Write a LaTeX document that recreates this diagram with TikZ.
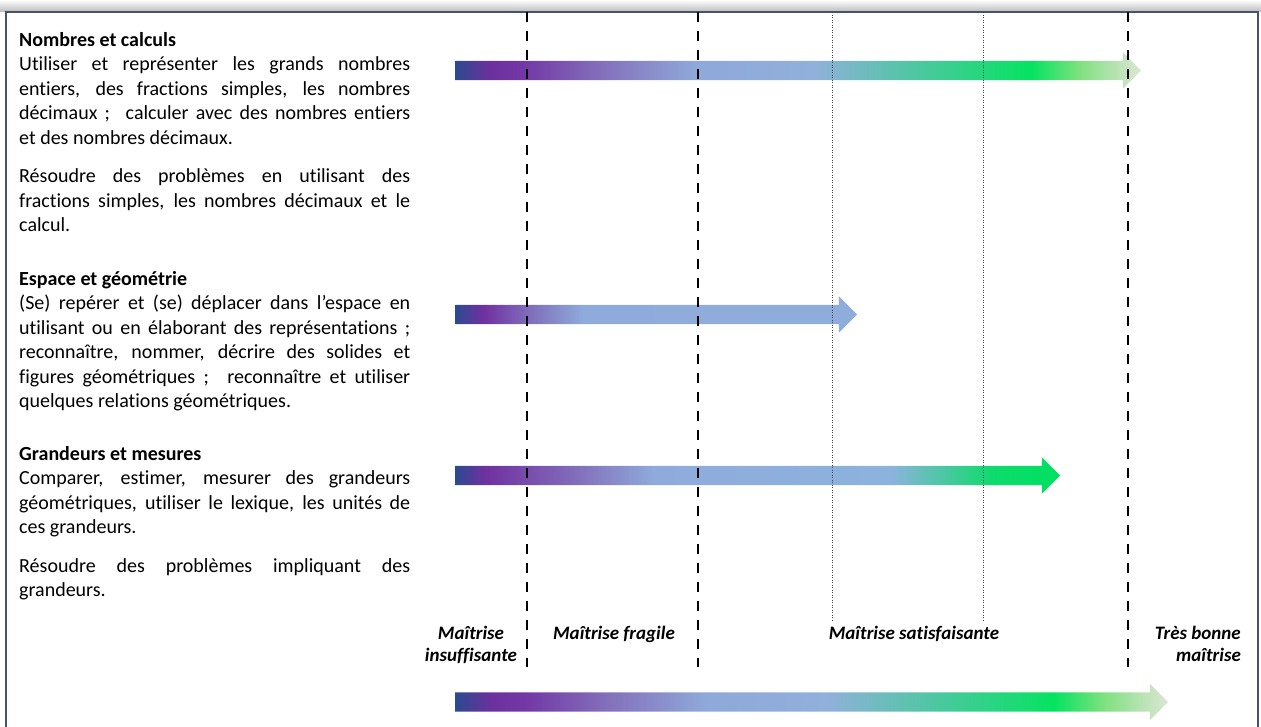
\documentclass[tikz,border=0pt]{standalone}
\usepackage{fontspec}
\setmainfont[Ligatures=NoCommon]{Carlito}
\usetikzlibrary{shapes.arrows}

\definecolor{frame}{RGB}{68,84,106}

\pgfdeclarehorizontalshading{gradfull}{100bp}{rgb(0bp)=(0.17,0.29,0.56); rgb(25bp)=(0.17,0.29,0.56); rgb(27.5bp)=(0.42,0.19,0.62); rgb(30bp)=(0.45,0.22,0.65); rgb(36bp)=(0.52,0.45,0.74); rgb(42.5bp)=(0.56,0.66,0.85); rgb(51bp)=(0.57,0.69,0.86); rgb(57bp)=(0.36,0.76,0.68); rgb(67bp)=(0.02,0.89,0.38); rgb(70.5bp)=(0.5,0.88,0.5); rgb(75bp)=(0.87,0.90,0.84); rgb(100bp)=(0.87,0.90,0.84)}
\pgfdeclarehorizontalshading{gradespace}{100bp}{rgb(0bp)=(0.17,0.29,0.56); rgb(25bp)=(0.17,0.29,0.56); rgb(28.5bp)=(0.44,0.19,0.63); rgb(34bp)=(0.50,0.42,0.73); rgb(41bp)=(0.56,0.67,0.86); rgb(75bp)=(0.56,0.68,0.86); rgb(100bp)=(0.56,0.68,0.86)}
\pgfdeclarehorizontalshading{gradgrand}{100bp}{rgb(0bp)=(0.17,0.29,0.56); rgb(25bp)=(0.17,0.29,0.56); rgb(27.5bp)=(0.44,0.19,0.63); rgb(35bp)=(0.51,0.43,0.73); rgb(41.5bp)=(0.56,0.67,0.86); rgb(61bp)=(0.55,0.70,0.87); rgb(69.5bp)=(0.05,0.86,0.42); rgb(75bp)=(0,0.88,0.38); rgb(100bp)=(0,0.88,0.38)}

\begin{document}
\begin{tikzpicture}[x=1pt, y=-1pt,
    txt/.style = {anchor=north west, inner sep=0pt, text width=391pt, align=justify, font=\fontsize{20}{24.5}\selectfont},
    lvl/.style = {inner sep=0pt, font=\fontsize{19}{22}\selectfont\bfseries\itshape},
    bar/.style = {single arrow, shade, single arrow head extend=8.5pt, inner xsep=0pt, inner ysep=9.5pt, anchor=west, outer sep=0pt},
    cut/.style = {line width=2pt, dash pattern=on 10pt off 9pt},
    sub/.style = {line width=0.7pt, black!75, dash pattern=on 1pt off 1.5pt}]
    \useasboundingbox (0,0) rectangle (1261,726);
    % frame
    \shade[top color=white, bottom color=black!25] (0,0) rectangle (1261,11);
    \draw[line width=2pt, frame] (6,12) rectangle (1258,760);

    % left column
    \node[txt] (nc) at (19,32) {\textbf{Nombres et calculs}\\
        Utiliser et représenter les grands nombres\linebreak
        entiers, des fractions simples, les nombres\linebreak
        décimaux~;~ calculer avec des nombres entiers\linebreak
        et des nombres décimaux.\\[14pt]
        Résoudre des problèmes en utilisant des\linebreak
        fractions simples, les nombres décimaux et le\linebreak
        calcul.};
    \node[txt] (eg) at (19,271) {\textbf{Espace et géométrie}\\
        (Se) repérer et (se) déplacer dans l’espace en\linebreak
        utilisant ou en élaborant des représentations~;\linebreak
        reconnaître, nommer, décrire des solides et\linebreak
        figures géométriques~;~ reconnaître et utiliser\linebreak
        quelques relations géométriques.};
    \node[txt] (gm) at (19,446) {\textbf{Grandeurs et mesures}\\
        Comparer, estimer, mesurer des grandeurs\linebreak
        géométriques, utiliser le lexique, les unités de\linebreak
        ces grandeurs.\\[14pt]
        Résoudre des problèmes impliquant des\linebreak
        grandeurs.};

    % arrows
    \node[bar, shading=gradfull, minimum height=686pt] (arrnc) at (455,70.5) {};
    \node[bar, shading=gradespace, minimum height=402pt] (arreg) at (455,314.5) {};
    \node[bar, shading=gradgrand, minimum height=605pt] (arrgm) at (455,475.5) {};
    \node[bar, shading=gradfull, minimum height=713pt] (arrsc) at (455,702) {};

    % level lines
    \foreach \x/\n in {527/a, 698/b, 1128/c} {
        \coordinate (top\n) at (\x,12);
        \coordinate (bot\n) at (\x,667);
        \draw[cut] (top\n) -- (bot\n);
    }
    \foreach \x/\n in {832/d, 983/e} {
        \coordinate (top\n) at (\x,12);
        \coordinate (bot\n) at (\x,622);
        \draw[sub] (top\n) -- (bot\n);
    }

    % level labels
    \node[lvl, align=center, anchor=north] (insuf) at (471,626) {Maîtrise\\insuffisante};
    \node[lvl, anchor=base] (frag) at (614,639) {Maîtrise fragile};
    \node[lvl, anchor=base] (satis) at (914,639) {Maîtrise satisfaisante};
    \node[lvl, align=right, anchor=north east] (tbm) at (1241,626) {Très bonne\\maîtrise};
\end{tikzpicture}
\end{document}
